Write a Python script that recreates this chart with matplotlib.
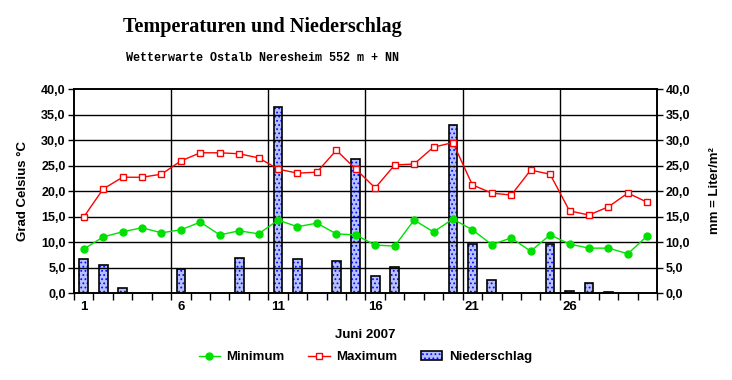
import matplotlib
matplotlib.use("Agg")
import matplotlib.pyplot as plt
from matplotlib.ticker import FixedLocator, FuncFormatter
from matplotlib.lines import Line2D
from matplotlib.patches import Patch

# Daily values, June 2007
days = list(range(1, 31))
t_min = [8.6, 11.0, 12.0, 12.8, 11.8, 12.4, 13.9, 11.4, 12.2, 11.6,
         14.3, 13.0, 13.7, 11.6, 11.4, 9.4, 9.2, 14.3, 12.0, 14.5,
         12.4, 9.5, 10.8, 8.2, 11.4, 9.6, 8.8, 8.8, 7.7, 11.2]
t_max = [14.9, 20.4, 22.7, 22.7, 23.3, 25.9, 27.5, 27.5, 27.3, 26.5,
         24.3, 23.5, 23.7, 28.0, 24.3, 20.6, 25.1, 25.3, 28.6, 29.5,
         21.2, 19.6, 19.2, 24.1, 23.3, 16.1, 15.3, 16.9, 19.6, 17.8]
rain = [6.7, 5.5, 0.9, 0.0, 0.0, 4.7, 0.0, 0.0, 6.9, 0.0,
        36.5, 6.7, 0.0, 6.3, 26.3, 3.3, 5.1, 0.0, 0.0, 32.9,
        9.6, 2.5, 0.0, 0.0, 9.6, 0.4, 2.0, 0.2, 0.0, 0.0]
day_labels = [1, 6, 11, 16, 21, 26]

plt.rcParams["font.family"] = ["Liberation Sans", "DejaVu Sans"]
plt.rcParams["font.weight"] = "bold"
plt.rcParams["hatch.linewidth"] = 0.8

fig = plt.figure(figsize=(7.32, 3.80), dpi=100)
ax = fig.add_axes([0.1011, 0.2289, 0.7964, 0.5368])
ax2 = ax.twinx()

# bars on the right axis, below the temperature lines
ax.set_zorder(2)
ax.patch.set_visible(False)
bars = [(d, r) for d, r in zip(days, rain) if r > 0]
bx = [b[0] for b in bars]
by = [b[1] for b in bars]
ax2.bar(bx, by, width=0.45, color="#b8c0ff", edgecolor="#0010ff",
        hatch="....", linewidth=0, zorder=2)
ax2.bar(bx, by, width=0.45, fill=False, edgecolor="black",
        linewidth=1.2, zorder=3)

ax.plot(days, t_min, color="#00e000", lw=1, marker="o", ms=5,
        mfc="#00e000", mec="#00e000", zorder=4)
ax.plot(days, t_max, color="red", lw=1, marker="s", ms=5,
        mfc="white", mec="red", mew=1, zorder=4)

fmt = FuncFormatter(lambda v, p: f"{v:.1f}".replace(".", ","))
for a in (ax, ax2):
    a.set_xlim(0.5, 30.5)
    a.set_ylim(0, 40)
    a.yaxis.set_major_locator(FixedLocator(range(0, 41, 5)))
    a.yaxis.set_major_formatter(fmt)
    a.tick_params(axis="y", labelsize=9, length=4, width=1, pad=2)
    for s in a.spines.values():
        s.set_linewidth(1.2)

# horizontal and vertical grid in black
for y in range(5, 40, 5):
    ax.axhline(y, color="black", lw=1, zorder=1)
for d in day_labels[1:]:
    ax.axvline(d - 0.5, color="black", lw=1, zorder=1)

ax.set_xticks(day_labels)
ax.set_xticklabels([str(d) for d in day_labels])
ax.set_xticks([d + 0.5 for d in range(0, 31)], minor=True)
ax.tick_params(axis="x", which="major", length=0, labelsize=9.5, pad=6)
ax.tick_params(axis="x", which="minor", length=5, width=1)

ax.set_ylabel("Grad Celsius °C", fontsize=9.5, weight="bold", labelpad=9)
ax2.set_ylabel("mm = Liter/m²", fontsize=9.5, weight="bold", labelpad=14)
ax.set_xlabel("Juni 2007", fontsize=9.5, weight="bold", labelpad=11)

fig.text(0.358, 0.916, "Temperaturen und Niederschlag", ha="center",
         va="baseline", fontsize=14.5, family="Liberation Serif",
         weight="bold")
fig.text(0.358, 0.839, "Wetterwarte Ostalb Neresheim 552 m + NN",
         ha="center", va="baseline", fontsize=8.5,
         family="Liberation Mono", weight="bold")

rain_handle = (Patch(facecolor="#b8c0ff", edgecolor="#0010ff", hatch="....",
                     linewidth=0),
               Patch(fill=False, edgecolor="black", linewidth=1.2))
handles = [
    Line2D([], [], color="#00e000", lw=1, marker="o", ms=5),
    Line2D([], [], color="red", lw=1, marker="s", ms=5, mfc="white"),
    rain_handle,
]
fig.legend(handles, ["Minimum", "Maximum", "Niederschlag"],
           loc="center", bbox_to_anchor=(0.499, 0.06), ncol=3,
           frameon=False, fontsize=9.5, handlelength=1.6,
           handletextpad=0.5, columnspacing=1.8)

fig.savefig("out.png", dpi=100)
